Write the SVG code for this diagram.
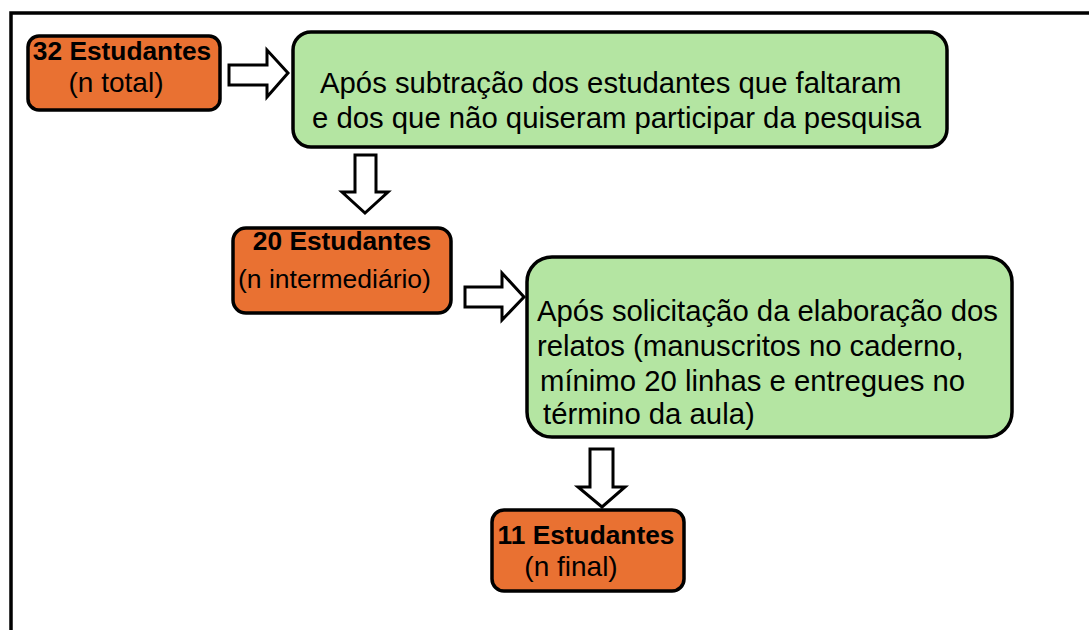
<svg xmlns="http://www.w3.org/2000/svg" width="1089" height="630" viewBox="0 0 1089 630">
<style>
.frame{fill:none;stroke:#000;stroke-width:3.5}
.org{fill:#E97132;stroke:#000;stroke-width:3.5}
.grn{fill:#B4E5A2;stroke:#000;stroke-width:3.5}
.arr{fill:#fff;stroke:#000;stroke-width:3;stroke-linejoin:miter}
.b{font-family:"Liberation Sans",Arial,sans-serif;font-weight:bold;font-size:26.3px;fill:#000}
.r{font-family:"Liberation Sans",Arial,sans-serif;font-size:28px;fill:#000}
.g{font-family:"Liberation Sans",Arial,sans-serif;font-size:29.3px;fill:#000}
</style>
<rect width="1089" height="630" fill="#fff"/>
<rect class="frame" x="11" y="13" width="1100" height="700"/>
<g id="connectors">
<polygon class="arr" points="229,65 267,65 267,50 288,73 267,97 267,85 229,85"/>
<polygon class="arr" points="355,155 376,155 376,192 388,192 365,213 342,192 355,192"/>
<polygon class="arr" points="465,287 502,287 502,273 524,297 502,320 502,307 465,307"/>
<polygon class="arr" points="590,449 613,449 613,487 625,487 602,507 578,487 590,487"/>
</g>
<g id="n32">
<rect class="org" x="28" y="36" width="192" height="74" rx="11"/>
<text class="b" x="122" y="60" text-anchor="middle">32 Estudantes</text>
<text class="r" x="116" y="92" text-anchor="middle">(n total)</text>
</g>
<g id="step1">
<rect class="grn" x="293" y="32" width="654" height="115" rx="18"/>
<text class="g" x="320" y="93">Após subtração dos estudantes que faltaram</text>
<text class="g" x="312" y="128">e dos que não quiseram participar da pesquisa</text>
</g>
<g id="n20">
<rect class="org" x="233" y="228" width="218" height="85" rx="13"/>
<text class="b" x="342" y="250" text-anchor="middle">20 Estudantes</text>
<text class="r" x="238" y="288" style="font-size:26.5px">(n intermediário)</text>
</g>
<g id="step2">
<rect class="grn" x="527" y="257" width="485" height="180" rx="25"/>
<text class="g" x="537" y="321">Após solicitação da elaboração dos</text>
<text class="g" x="537" y="356">relatos (manuscritos no caderno,</text>
<text class="g" x="540" y="391">mínimo 20 linhas e entregues no</text>
<text class="g" x="543" y="424">término da aula)</text>
</g>
<g id="n11">
<rect class="org" x="492" y="510" width="192" height="81" rx="12"/>
<text class="b" x="586" y="544" text-anchor="middle">11 Estudantes</text>
<text class="r" x="571" y="576" text-anchor="middle">(n final)</text>
</g>
</svg>
